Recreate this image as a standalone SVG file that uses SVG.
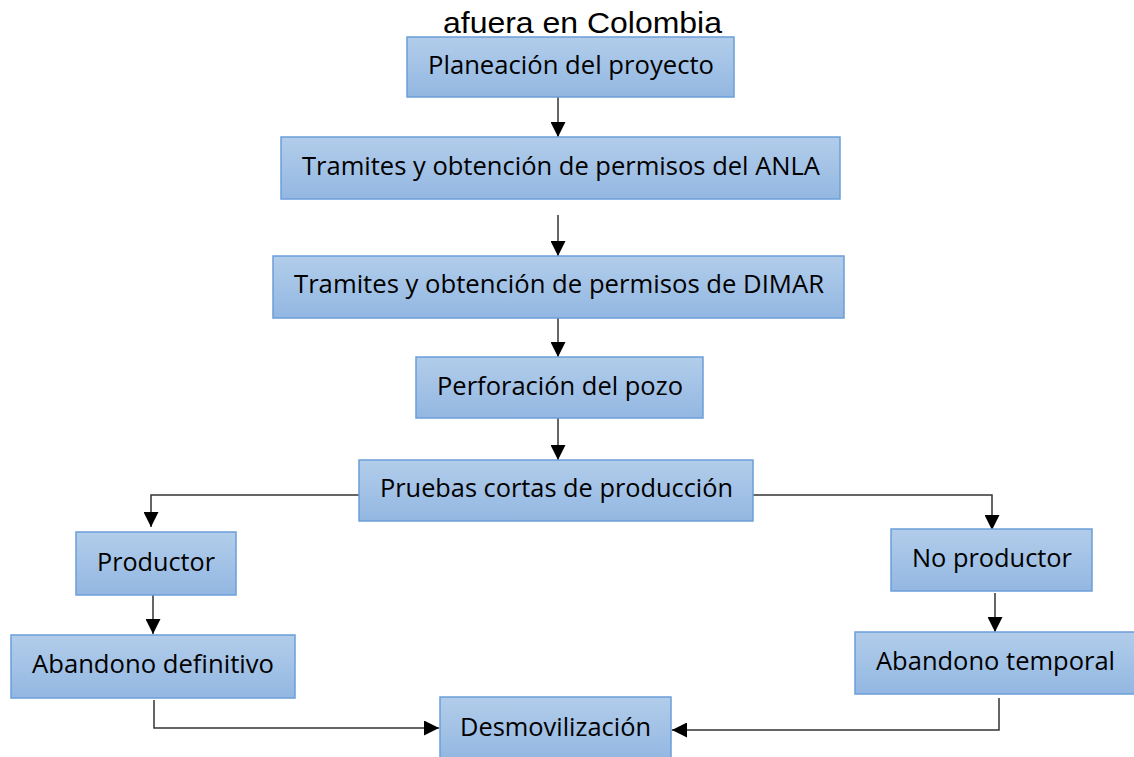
<svg xmlns="http://www.w3.org/2000/svg" width="1134" height="757" viewBox="0 0 1134 757">
<style>
.box{fill:url(#g);stroke:#6b9fd9;stroke-width:1.5}
.t{font-family:"Open Sans","Liberation Sans",sans-serif;font-size:25px;fill:#000;text-anchor:middle}
.title{font-family:"Liberation Sans",Arial,sans-serif;font-size:29px;fill:#000;text-anchor:middle}
.c{fill:none;stroke:#333;stroke-width:1.5;marker-end:url(#a)}
</style>
<defs>
<linearGradient id="g" x1="0" y1="0" x2="0" y2="1">
<stop offset="0" stop-color="#b2cdea"/>
<stop offset="1" stop-color="#93b7e2"/>
</linearGradient>
<marker id="a" markerUnits="userSpaceOnUse" markerWidth="15" markerHeight="15" refX="15" refY="7.5" orient="auto">
<path d="M0,0 L15,7.5 L0,15 Z" fill="#000"/>
</marker>
</defs>
<rect width="1134" height="757" fill="#fff"/>
<text class="title" x="582.5" y="33" textLength="279" lengthAdjust="spacingAndGlyphs">afuera en Colombia</text>
<g id="connectors">
<path class="c" d="M558,97 V137"/>
<path class="c" d="M558,215 V256"/>
<path class="c" d="M558,318 V357"/>
<path class="c" d="M558,418 V460"/>
<path class="c" d="M359,495 H151 V527"/>
<path class="c" d="M753,495 H992 V530"/>
<path class="c" d="M153,595 V634"/>
<path class="c" d="M995,593 V632"/>
<path class="c" d="M154,700 V728 H439"/>
<path class="c" d="M999,698 V730 H672"/>
</g>
<g id="n1"><rect class="box" x="407" y="37" width="327" height="60"/><text class="t" x="571" y="74" textLength="286" lengthAdjust="spacingAndGlyphs">Planeación del proyecto</text></g>
<g id="n2"><rect class="box" x="281" y="137" width="559" height="62"/><text class="t" x="561" y="175" textLength="518" lengthAdjust="spacingAndGlyphs">Tramites y obtención de permisos del ANLA</text></g>
<g id="n3"><rect class="box" x="273" y="256" width="571" height="62"/><text class="t" x="559" y="293" textLength="530" lengthAdjust="spacingAndGlyphs">Tramites y obtención de permisos de DIMAR</text></g>
<g id="n4"><rect class="box" x="416" y="357" width="287" height="61"/><text class="t" x="560" y="395" textLength="246" lengthAdjust="spacingAndGlyphs">Perforación del pozo</text></g>
<g id="n5"><rect class="box" x="359" y="460" width="394" height="61"/><text class="t" x="556.5" y="497" textLength="353" lengthAdjust="spacingAndGlyphs">Pruebas cortas de producción</text></g>
<g id="n6"><rect class="box" x="76" y="532" width="160" height="63"/><text class="t" x="156" y="571" textLength="118" lengthAdjust="spacingAndGlyphs">Productor</text></g>
<g id="n7"><rect class="box" x="11" y="635" width="284" height="63"/><text class="t" x="153" y="673" textLength="242" lengthAdjust="spacingAndGlyphs">Abandono definitivo</text></g>
<g id="n8"><rect class="box" x="891" y="529" width="201" height="62"/><text class="t" x="992" y="567" textLength="160" lengthAdjust="spacingAndGlyphs">No productor</text></g>
<g id="n9"><rect class="box" x="855" y="632" width="280" height="62"/><text class="t" x="995.5" y="670" textLength="239" lengthAdjust="spacingAndGlyphs">Abandono temporal</text></g>
<g id="n10"><rect class="box" x="440" y="697" width="231" height="62"/><text class="t" x="555.5" y="736" textLength="191" lengthAdjust="spacingAndGlyphs">Desmovilización</text></g>
</svg>
